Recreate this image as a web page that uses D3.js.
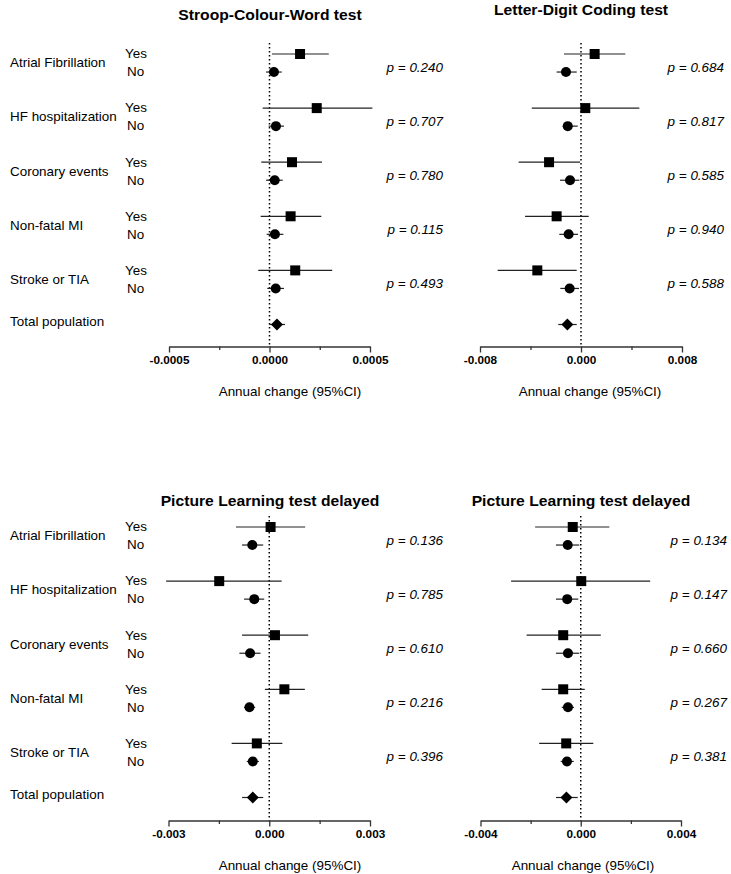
<!DOCTYPE html>
<html>
<head>
<meta charset="utf-8">
<script src="https://cdn.jsdelivr.net/npm/d3@7"></script>
<style>
  body { margin: 0; background: #fff; }
  text { font-family: "Liberation Sans", Arial, sans-serif; fill: #000; }
</style>
</head>
<body>
<div id="chart"></div>
<script>
// data: [estimate, lower 95%CI, upper 95%CI]
var groups = ["Atrial Fibrillation", "HF hospitalization", "Coronary events", "Non-fatal MI", "Stroke or TIA"];
var titles = ["Stroop-Colour-Word test", "Letter-Digit Coding test", "Picture Learning test delayed", "Picture Learning test delayed"];

var stroopYes = [[0.000152, 0.000012, 0.000295], [0.000235, -0.000034, 0.000512], [0.000112, -0.000041, 0.000261], [0.000105, -0.000044, 0.000258], [0.000128, -0.000056, 0.000312]];
var stroopNo = [[0.000022, -0.000017, 0.000061], [0.000032, -0.000004, 0.000072], [0.000026, -0.000017, 0.000066], [0.000027, -0.000014, 0.000069], [0.000031, -0.000011, 0.000072]];
var stroopTotal = [0.000037, -0.000001, 0.000077];
var stroopP = ["0.240", "0.707", "0.780", "0.115", "0.493"];

var ldctYes = [[0.00108, -0.00135, 0.00351], [0.00034, -0.0039, 0.00462], [-0.00253, -0.00494, -0.00008], [-0.00193, -0.00443, 0.00061], [-0.00346, -0.0066, -0.00034]];
var ldctNo = [[-0.00119, -0.00193, -0.00034], [-0.00105, -0.00145, -0.00026], [-0.00087, -0.00166, -0.00013], [-0.00098, -0.00172, -0.00024], [-0.0009, -0.00164, -0.00016]];
var ldctTotal = [-0.00108, -0.0018, -0.00034];
var ldctP = ["0.684", "0.817", "0.585", "0.940", "0.588"];

var pltaYes = [[0.00004, -0.00099, 0.00107], [-0.00149, -0.00307, 0.00037], [0.00017, -0.00081, 0.00116], [0.00045, -0.00013, 0.00106], [-0.00037, -0.00112, 0.00039]];
var pltaNo = [[-0.000505, -0.00081, -0.00018], [-0.000446, -0.00075, -0.00015], [-0.00057, -0.00089, -0.00026], [-0.00059, -0.00075, -0.00042], [-0.00049, -0.00067, -0.00031]];
var pltaTotal = [-0.00049, -0.00081, -0.00018];
var pltaP = ["0.136", "0.785", "0.610", "0.216", "0.396"];

var pltbYes = [[-0.00032, -0.00182, 0.00114], [0.00002, -0.00278, 0.00277], [-0.0007, -0.00216, 0.0008], [-0.0007, -0.00156, 0.00016], [-0.00058, -0.00166, 0.0005]];
var pltbNo = [[-0.00052, -0.00099, -0.00006], [-0.00054, -0.00099, -0.0001], [-0.00051, -0.00099, -0.00006], [-0.00051, -0.00076, -0.00027], [-0.00055, -0.0008, -0.00028]];
var pltbTotal = [-0.00057, -0.00099, -0.00012];
var pltbP = ["0.134", "0.147", "0.660", "0.267", "0.381"];

var axisLimits = [0.0005, 0.008, 0.003, 0.004];
var tickFormats = [".4f", ".3f", ".3f", ".3f"];

var svgWidth = 731;
var svgHeight = 874;
var stretch = 1.12; // the original figure's text is a bit wide

var svg = d3.select("#chart").append("svg").attr("width", svgWidth).attr("height", svgHeight);

// layout of the four panels
var panels = [
    {yes: stroopYes, no: stroopNo, total: stroopTotal, p: stroopP, left: 169, right: 370, top: 54, axisY: 346.5, titleX: 270, titleY: 20, axTitleX: 290, pX: 443, labels: true},
    {yes: ldctYes, no: ldctNo, total: ldctTotal, p: ldctP, left: 480, right: 682, top: 54, axisY: 346.5, titleX: 581, titleY: 15, axTitleX: 590, pX: 724, labels: false},
    {yes: pltaYes, no: pltaNo, total: pltaTotal, p: pltaP, left: 168.5, right: 370, top: 527, axisY: 820.5, titleX: 270, titleY: 506, axTitleX: 290, pX: 443, labels: true},
    {yes: pltbYes, no: pltbNo, total: pltbTotal, p: pltbP, left: 480.5, right: 681, top: 527, axisY: 820.5, titleX: 581, titleY: 506, axTitleX: 583, pX: 727, labels: false}
];

function addText(g, x, y, str, size, opts) {
    opts = opts || {};
    return g.append("text")
        .attr("transform", `translate(${x},${y}) scale(${stretch},1)`)
        .attr("text-anchor", opts.anchor || "start")
        .style("font-size", size + "px")
        .style("font-weight", opts.bold ? "bold" : "normal")
        .style("font-style", opts.italic ? "italic" : "normal")
        .text(str);
}

var diamond = "M0,-6L6,0L0,6L-6,0Z";

panels.forEach(function(p, k) {
    var g = svg.append("g");
    var lim = axisLimits[k];

    var x = d3.scaleLinear().domain([-lim, lim]).range([p.left, p.right]);
    // row index: yes = 3i, no = 3i+1, total = 15
    var y = d3.scaleLinear().domain([0, 15]).range([p.top, p.top + 270.5]);

    // title
    addText(g, p.titleX, p.titleY, titles[k], 14, {anchor: "middle", bold: true});

    // zero reference line
    g.append("line")
        .attr("x1", x(0)).attr("x2", x(0))
        .attr("y1", p.top - 11).attr("y2", p.axisY)
        .attr("stroke", "#000")
        .attr("stroke-width", 1.5)
        .attr("stroke-dasharray", "1.5,2.5");

    // axis
    var fmt = d3.format(tickFormats[k]);
    var xAxis = g.append("g")
        .attr("transform", `translate(0,${p.axisY})`)
        .call(d3.axisBottom(x)
            .tickValues([-lim, -lim / 2, 0, lim / 2, lim])
            .tickSizeOuter(0)
            .tickSizeInner(6)
            .tickFormat(d => (Math.abs(d) === lim / 2 ? "" : fmt(d).replace("\u2212", "-"))));
    xAxis.select(".domain").attr("stroke", "#333").attr("stroke-width", 1.5);
    xAxis.selectAll(".tick line").attr("stroke", "#333").attr("stroke-width", 1.3)
        .attr("y2", d => (Math.abs(d) === lim / 2 ? 3.5 : 6));
    xAxis.selectAll(".tick text")
        .attr("y", 10)
        .attr("transform", `scale(${stretch},1)`)
        .style("font-size", "10.5px")
        .style("font-weight", "bold")
        .attr("fill", "#000");

    addText(g, p.axTitleX, p.axisY + 49, "Annual change (95%CI)", 12, {anchor: "middle"});

    // confidence intervals
    var rows = [];
    groups.forEach(function(name, i) {
        rows.push({kind: "yes", idx: 3 * i, v: p.yes[i]});
        rows.push({kind: "no", idx: 3 * i + 1, v: p.no[i]});
    });
    rows.push({kind: "total", idx: 15, v: p.total});

    g.selectAll("line.ci")
        .data(rows)
        .enter()
        .append("line")
        .classed("ci", true)
        .attr("x1", d => x(d.v[1]))
        .attr("x2", d => x(d.v[2]))
        .attr("y1", d => y(d.idx))
        .attr("y2", d => y(d.idx))
        .attr("stroke", "#222")
        .attr("stroke-width", 1.2);

    g.selectAll("rect.yes")
        .data(rows.filter(d => d.kind === "yes"))
        .enter()
        .append("rect")
        .classed("yes", true)
        .attr("x", d => x(d.v[0]) - 5)
        .attr("y", d => y(d.idx) - 5)
        .attr("width", 10)
        .attr("height", 10)
        .attr("fill", "#000");

    g.selectAll("circle.no")
        .data(rows.filter(d => d.kind === "no"))
        .enter()
        .append("circle")
        .classed("no", true)
        .attr("cx", d => x(d.v[0]))
        .attr("cy", d => y(d.idx))
        .attr("r", 5)
        .attr("fill", "#000");

    g.selectAll("path.total")
        .data(rows.filter(d => d.kind === "total"))
        .enter()
        .append("path")
        .classed("total", true)
        .attr("d", diamond)
        .attr("transform", d => `translate(${x(d.v[0])},${y(d.idx)})`)
        .attr("fill", "#000");

    // p values
    p.p.forEach(function(pv, i) {
        addText(g, p.pX, y(3 * i) + 17.5, "p = " + pv, 12, {anchor: "end", italic: true});
    });

    // row labels on the left panels
    if (p.labels) {
        groups.forEach(function(name, i) {
            addText(g, 10, y(3 * i + 0.5) + 4.3, name, 12);
            addText(g, 125, y(3 * i) + 4.3, "Yes", 12);
            addText(g, 127, y(3 * i + 1) + 4.3, "No", 12);
        });
        addText(g, 10, y(15) + 1, "Total population", 12);
    }
});
</script>
</body>
</html>
